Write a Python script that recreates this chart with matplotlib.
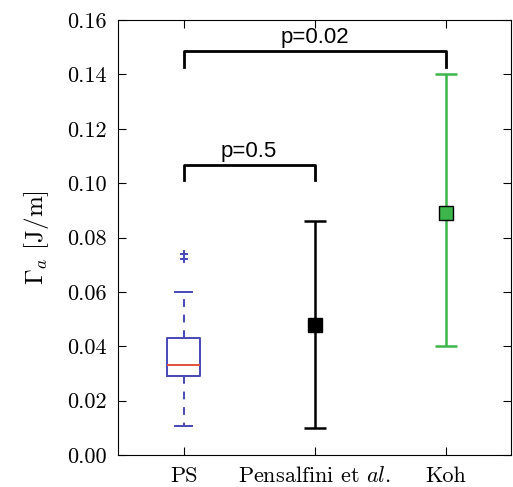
import numpy as np
import matplotlib
matplotlib.use("Agg")
import matplotlib.pyplot as plt

plt.rcParams['font.family'] = 'serif'
plt.rcParams['font.serif'] = ['cmr10']
plt.rcParams['mathtext.fontset'] = 'cm'
plt.rcParams['axes.unicode_minus'] = False
plt.rcParams['axes.formatter.use_mathtext'] = True

# data
labels = ['PS', r'Pensalfini et $al.$', 'Koh']

# PS box statistics
ps_med = 0.0330
ps_q1 = 0.0292
ps_q3 = 0.0431
ps_whislo = 0.0107
ps_whishi = 0.0598
ps_fliers = [0.0720, 0.0740]

# literature values: centre, low, high
lit_pos = [2, 3]
lit_mid = [0.048, 0.089]
lit_lo = [0.0100, 0.0400]
lit_hi = [0.0860, 0.1400]
lit_col = ['black', '#3cb54a']

# significance brackets
pairs = [(1, 2), (1, 3)]
bracket_y = [0.1010, 0.1428]
p_text = ['p=0.5', 'p=0.02']

fig = plt.figure(figsize=(5.13, 4.87), dpi=100)
ax = fig.add_axes([0.230, 0.0657, 0.767, 0.893])

stats = [dict(med=ps_med, q1=ps_q1, q3=ps_q3, whislo=ps_whislo,
              whishi=ps_whishi, fliers=ps_fliers)]
blue = '#4848b8'
ax.bxp(stats, positions=[1], widths=0.25, showfliers=True,
       boxprops=dict(color=blue, lw=1.4),
       whiskerprops=dict(color=blue, lw=1.4, ls=(0, (4, 4))),
       capprops=dict(color=blue, lw=1.4),
       medianprops=dict(color='#e0503c', lw=1.4),
       flierprops=dict(marker='+', markeredgecolor=blue, markersize=6, mew=1.4))

for x, m, lo, hi, c in zip(lit_pos, lit_mid, lit_lo, lit_hi, lit_col):
    ax.errorbar([x], [m], yerr=[[m - lo], [hi - m]], fmt='s', color=c,
                ecolor=c, mec='black', ms=9.5, elinewidth=1.8, capsize=8,
                capthick=1.8)

h = 0.0058
for (a, b), y, t in zip(pairs, bracket_y, p_text):
    ax.plot([a, a, b, b], [y, y + h, y + h, y], color='black', lw=2)
    ax.text((a + b) / 2., y + h + 0.001, t, ha='center', va='bottom',
            fontsize=16, family='Liberation Sans')

ax.set_xlim(0.5, 3.5)
ax.set_ylim(0, 0.16)
ax.set_xticks([1, 2, 3])
ax.set_xticklabels(labels)
ax.set_yticks(np.arange(0, 0.161, 0.02))
ax.yaxis.set_major_formatter(matplotlib.ticker.FormatStrFormatter('%.2f'))
ax.tick_params(direction='in', top=True, right=True, length=6, width=0.8,
               labelsize=16, pad=8)
ax.set_ylabel(r'$\Gamma_a$ [J/m]', fontsize=18, labelpad=12)

fig.savefig('out.png', dpi=100)
